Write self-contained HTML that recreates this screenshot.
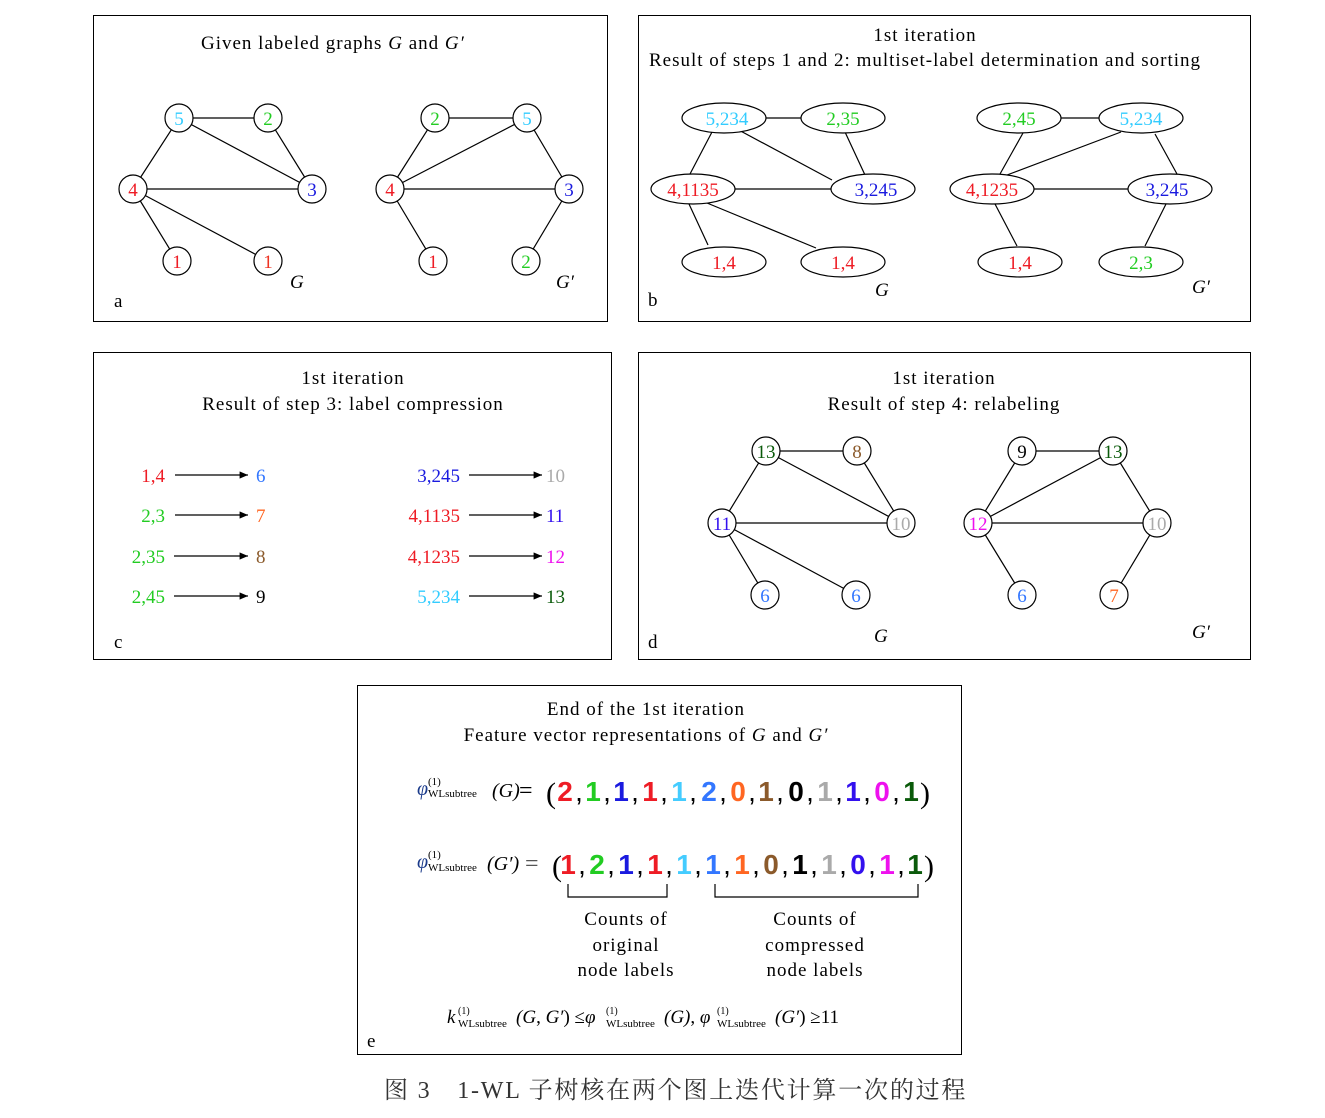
<!DOCTYPE html>
<html><head><meta charset="utf-8"><style>
html,body{margin:0;padding:0;background:#fff;}
svg{display:block;font-family:"Liberation Serif","Noto Serif CJK SC",serif;}
</style></head><body>
<svg width="1325" height="1118" viewBox="0 0 1325 1118" xmlns="http://www.w3.org/2000/svg">
<defs><marker id="ar" markerWidth="8" markerHeight="8" refX="7" refY="3" orient="auto"><path d="M0,0 L7,3 L0,6 z" fill="#000"/></marker></defs>
<g fill="none" stroke="#000" stroke-width="1">
<rect x="93.5" y="15.5" width="514" height="306"/>
<rect x="638.5" y="15.5" width="612" height="306"/>
<rect x="93.5" y="352.5" width="518" height="307"/>
<rect x="638.5" y="352.5" width="612" height="307"/>
<rect x="357.5" y="685.5" width="604" height="369"/>
</g>
<g font-size="19" fill="#000" letter-spacing="1">
<text x="201" y="49">Given labeled graphs <tspan font-style="italic">G</tspan> and <tspan font-style="italic">G′</tspan></text>
<text x="925" y="41" text-anchor="middle">1st iteration</text>
<text x="925" y="66" text-anchor="middle">Result of steps 1 and 2: multiset-label determination and sorting</text>
<text x="353" y="384" text-anchor="middle">1st iteration</text>
<text x="353" y="410" text-anchor="middle">Result of step 3: label compression</text>
<text x="944" y="384" text-anchor="middle">1st iteration</text>
<text x="944" y="410" text-anchor="middle">Result of step 4: relabeling</text>
<text x="646" y="715" text-anchor="middle">End of the 1st iteration</text>
<text x="646" y="741" text-anchor="middle">Feature vector representations of <tspan font-style="italic">G</tspan> and <tspan font-style="italic">G′</tspan></text>
</g>
<g font-size="19" fill="#000">
<text x="114" y="307">a</text><text x="648" y="306">b</text><text x="114" y="648">c</text><text x="648" y="648">d</text><text x="367" y="1047">e</text>
<text x="290" y="288" font-style="italic">G</text><text x="556" y="288" font-style="italic">G′</text>
<text x="875" y="296" font-style="italic">G</text><text x="1192" y="293" font-style="italic">G′</text>
<text x="874" y="642" font-style="italic">G</text><text x="1192" y="638" font-style="italic">G′</text>
</g>
<!-- panel a -->
<g stroke="#000" stroke-width="1.2">
<line x1="179" y1="118" x2="268" y2="118"/><line x1="179" y1="118" x2="133" y2="189"/><line x1="179" y1="118" x2="312" y2="189"/><line x1="268" y1="118" x2="312" y2="189"/><line x1="133" y1="189" x2="312" y2="189"/><line x1="133" y1="189" x2="177" y2="261"/><line x1="133" y1="189" x2="268" y2="261"/>
<line x1="435" y1="118" x2="527" y2="118"/><line x1="435" y1="118" x2="390" y2="189"/><line x1="390" y1="189" x2="527" y2="118"/><line x1="527" y1="118" x2="569" y2="189"/><line x1="390" y1="189" x2="569" y2="189"/><line x1="390" y1="189" x2="433" y2="261"/><line x1="569" y1="189" x2="526" y2="261"/>
</g>
<g fill="#fff" stroke="#000" stroke-width="1.2">
<circle cx="179" cy="118" r="14"/><circle cx="268" cy="118" r="14"/><circle cx="133" cy="189" r="14"/><circle cx="312" cy="189" r="14"/><circle cx="177" cy="261" r="14"/><circle cx="268" cy="261" r="14"/>
<circle cx="435" cy="118" r="14"/><circle cx="527" cy="118" r="14"/><circle cx="390" cy="189" r="14"/><circle cx="569" cy="189" r="14"/><circle cx="433" cy="261" r="14"/><circle cx="526" cy="261" r="14"/>
</g>
<g font-size="19" text-anchor="middle">
<text x="179" y="125" fill="#33ccff">5</text><text x="268" y="125" fill="#22cc22">2</text><text x="133" y="196" fill="#ee1c25">4</text><text x="312" y="196" fill="#1a1adf">3</text><text x="177" y="268" fill="#ee1c25">1</text><text x="268" y="268" fill="#ee3322">1</text>
<text x="435" y="125" fill="#22cc22">2</text><text x="527" y="125" fill="#33ccff">5</text><text x="390" y="196" fill="#ee1c25">4</text><text x="569" y="196" fill="#1a1adf">3</text><text x="433" y="268" fill="#ee1c25">1</text><text x="526" y="268" fill="#22cc22">2</text>
</g>
<!-- panel b -->
<g stroke="#000" stroke-width="1.2">
<line x1="724" y1="118" x2="843" y2="118"/><line x1="712" y1="132" x2="690" y2="174"/><line x1="735" y1="128" x2="832" y2="180"/><line x1="845" y1="132" x2="865" y2="175"/><line x1="693" y1="189" x2="873" y2="189"/><line x1="689" y1="204" x2="708" y2="245"/><line x1="707" y1="203" x2="816" y2="248"/>
<line x1="1019" y1="118" x2="1141" y2="118"/><line x1="1023" y1="133" x2="1000" y2="174"/><line x1="1007" y1="175" x2="1121" y2="132"/><line x1="1155" y1="134" x2="1177" y2="174"/><line x1="992" y1="189" x2="1170" y2="189"/><line x1="995" y1="204" x2="1017" y2="246"/><line x1="1166" y1="204" x2="1145" y2="246"/>
</g>
<g fill="#fff" stroke="#000" stroke-width="1.2">
<ellipse cx="724" cy="118" rx="42" ry="15"/><ellipse cx="843" cy="118" rx="42" ry="15"/><ellipse cx="693" cy="189" rx="42" ry="15"/><ellipse cx="873" cy="189" rx="42" ry="15"/><ellipse cx="724" cy="262" rx="42" ry="15"/><ellipse cx="843" cy="262" rx="42" ry="15"/>
<ellipse cx="1019" cy="118" rx="42" ry="15"/><ellipse cx="1141" cy="118" rx="42" ry="15"/><ellipse cx="992" cy="189" rx="42" ry="15"/><ellipse cx="1170" cy="189" rx="42" ry="15"/><ellipse cx="1020" cy="262" rx="42" ry="15"/><ellipse cx="1141" cy="262" rx="42" ry="15"/>
</g>
<g font-size="19" text-anchor="middle">
<text x="727" y="125" fill="#33ccff">5,234</text><text x="843" y="125" fill="#22cc22">2,35</text><text x="693" y="196" fill="#ee1c25">4,1135</text><text x="876" y="196" fill="#1a1adf">3,245</text><text x="724" y="269" fill="#ee1c25">1,4</text><text x="843" y="269" fill="#ee1c25">1,4</text>
<text x="1019" y="125" fill="#22cc22">2,45</text><text x="1141" y="125" fill="#33ccff">5,234</text><text x="992" y="196" fill="#ee1c25">4,1235</text><text x="1167" y="196" fill="#1a1adf">3,245</text><text x="1020" y="269" fill="#ee1c25">1,4</text><text x="1141" y="269" fill="#22cc22">2,3</text>
</g>
<!-- panel c -->
<g stroke="#000" stroke-width="1.2" marker-end="url(#ar)">
<line x1="175" y1="475" x2="248" y2="475"/><line x1="175" y1="515" x2="248" y2="515"/><line x1="174" y1="556" x2="248" y2="556"/><line x1="174" y1="596" x2="248" y2="596"/>
<line x1="469" y1="475" x2="542" y2="475"/><line x1="469" y1="515" x2="542" y2="515"/><line x1="469" y1="556" x2="542" y2="556"/><line x1="469" y1="596" x2="542" y2="596"/>
</g>
<g font-size="19">
<g text-anchor="end"><text x="165" y="482" fill="#ee1c25">1,4</text><text x="165" y="522" fill="#22cc22">2,3</text><text x="165" y="563" fill="#22cc22">2,35</text><text x="165" y="603" fill="#22cc22">2,45</text>
<text x="460" y="482" fill="#1a1adf">3,245</text><text x="460" y="522" fill="#ee1c25">4,1135</text><text x="460" y="563" fill="#ee1c25">4,1235</text><text x="460" y="603" fill="#33ccff">5,234</text></g>
<text x="256" y="482" fill="#3377ff">6</text><text x="256" y="522" fill="#ff6622">7</text><text x="256" y="563" fill="#8b5a2b">8</text><text x="256" y="603" fill="#000">9</text>
<text x="546" y="482" fill="#aaaaaa">10</text><text x="546" y="522" fill="#3311ee">11</text><text x="546" y="563" fill="#ee11ee">12</text><text x="546" y="603" fill="#0a5a0a">13</text>
</g>
<!-- panel d -->
<g stroke="#000" stroke-width="1.2">
<line x1="766" y1="451" x2="857" y2="451"/><line x1="766" y1="451" x2="722" y2="523"/><line x1="766" y1="451" x2="901" y2="523"/><line x1="857" y1="451" x2="901" y2="523"/><line x1="722" y1="523" x2="901" y2="523"/><line x1="722" y1="523" x2="765" y2="595"/><line x1="722" y1="523" x2="856" y2="595"/>
<line x1="1022" y1="451" x2="1113" y2="451"/><line x1="1022" y1="451" x2="978" y2="523"/><line x1="978" y1="523" x2="1113" y2="451"/><line x1="1113" y1="451" x2="1157" y2="523"/><line x1="978" y1="523" x2="1157" y2="523"/><line x1="978" y1="523" x2="1022" y2="595"/><line x1="1157" y1="523" x2="1114" y2="595"/>
</g>
<g fill="#fff" stroke="#000" stroke-width="1.2">
<circle cx="766" cy="451" r="14"/><circle cx="857" cy="451" r="14"/><circle cx="722" cy="523" r="14"/><circle cx="901" cy="523" r="14"/><circle cx="765" cy="595" r="14"/><circle cx="856" cy="595" r="14"/>
<circle cx="1022" cy="451" r="14"/><circle cx="1113" cy="451" r="14"/><circle cx="978" cy="523" r="14"/><circle cx="1157" cy="523" r="14"/><circle cx="1022" cy="595" r="14"/><circle cx="1114" cy="595" r="14"/>
</g>
<g font-size="19" text-anchor="middle">
<text x="766" y="458" fill="#0a5a0a">13</text><text x="857" y="458" fill="#8b5a2b">8</text><text x="722" y="530" fill="#3311ee">11</text><text x="901" y="530" fill="#aaaaaa">10</text><text x="765" y="602" fill="#3377ff">6</text><text x="856" y="602" fill="#3377ff">6</text>
<text x="1022" y="458" fill="#000">9</text><text x="1113" y="458" fill="#0a5a0a">13</text><text x="978" y="530" fill="#ee11ee">12</text><text x="1157" y="530" fill="#aaaaaa">10</text><text x="1022" y="602" fill="#3377ff">6</text><text x="1114" y="602" fill="#ff6622">7</text>
</g>
<!-- panel e -->
<g font-size="20">
<text x="417" y="795" font-style="italic" fill="#1a3a8a">φ</text><text x="428" y="785" font-size="11">(1)</text><text x="428" y="797" font-size="11">WLsubtree</text><text x="492" y="797" font-style="italic">(G)</text><text x="519" y="798" font-size="24">=</text>
<text x="417" y="868" font-style="italic" fill="#1a3a8a">φ</text><text x="428" y="858" font-size="11">(1)</text><text x="428" y="871" font-size="11">WLsubtree</text><text x="487" y="870" font-style="italic">(G′)</text><text x="525" y="871" font-size="24" fill="#555">=</text>
<text x="546" y="803" font-size="30">(</text><text x="920" y="803" font-size="30">)</text>
<text x="552" y="876" font-size="30">(</text><text x="924" y="876" font-size="30">)</text>
</g>
<g font-family="Liberation Sans, sans-serif" font-weight="bold" font-size="28" text-anchor="middle">
<text y="801"><tspan x="565" fill="#ee1c25">2</tspan><tspan x="579" fill="#000" font-weight="normal">,</tspan><tspan x="593" fill="#22cc22">1</tspan><tspan x="607" fill="#000" font-weight="normal">,</tspan><tspan x="621" fill="#1a1adf">1</tspan><tspan x="635" fill="#000" font-weight="normal">,</tspan><tspan x="650" fill="#ee1c25">1</tspan><tspan x="664" fill="#000" font-weight="normal">,</tspan><tspan x="679" fill="#44ccff">1</tspan><tspan x="693" fill="#000" font-weight="normal">,</tspan><tspan x="709" fill="#3377ff">2</tspan><tspan x="723" fill="#000" font-weight="normal">,</tspan><tspan x="738" fill="#ff6622">0</tspan><tspan x="752" fill="#000" font-weight="normal">,</tspan><tspan x="766" fill="#8b5a2b">1</tspan><tspan x="780" fill="#000" font-weight="normal">,</tspan><tspan x="796" fill="#000">0</tspan><tspan x="810" fill="#000" font-weight="normal">,</tspan><tspan x="825" fill="#aaaaaa">1</tspan><tspan x="839" fill="#000" font-weight="normal">,</tspan><tspan x="853" fill="#3311ee">1</tspan><tspan x="867" fill="#000" font-weight="normal">,</tspan><tspan x="882" fill="#ee11ee">0</tspan><tspan x="896" fill="#000" font-weight="normal">,</tspan><tspan x="911" fill="#0a5a0a">1</tspan></text>
<text y="874"><tspan x="568" fill="#ee1c25">1</tspan><tspan x="582" fill="#000" font-weight="normal">,</tspan><tspan x="597" fill="#22cc22">2</tspan><tspan x="611" fill="#000" font-weight="normal">,</tspan><tspan x="626" fill="#1a1adf">1</tspan><tspan x="640" fill="#000" font-weight="normal">,</tspan><tspan x="655" fill="#ee1c25">1</tspan><tspan x="669" fill="#000" font-weight="normal">,</tspan><tspan x="684" fill="#44ccff">1</tspan><tspan x="698" fill="#000" font-weight="normal">,</tspan><tspan x="713" fill="#3377ff">1</tspan><tspan x="727" fill="#000" font-weight="normal">,</tspan><tspan x="742" fill="#ff6622">1</tspan><tspan x="756" fill="#000" font-weight="normal">,</tspan><tspan x="771" fill="#8b5a2b">0</tspan><tspan x="785" fill="#000" font-weight="normal">,</tspan><tspan x="800" fill="#000">1</tspan><tspan x="814" fill="#000" font-weight="normal">,</tspan><tspan x="829" fill="#aaaaaa">1</tspan><tspan x="843" fill="#000" font-weight="normal">,</tspan><tspan x="858" fill="#3311ee">0</tspan><tspan x="872" fill="#000" font-weight="normal">,</tspan><tspan x="887" fill="#ee11ee">1</tspan><tspan x="901" fill="#000" font-weight="normal">,</tspan><tspan x="915" fill="#0a5a0a">1</tspan></text>
</g>
<g stroke="#000" stroke-width="1.2" fill="none">
<path d="M568,884 V897 H667 V884"/><path d="M715,884 V897 H918 V884"/>
</g>
<g font-size="19" text-anchor="middle" letter-spacing="1">
<text x="626" y="925">Counts of</text><text x="626" y="951">original</text><text x="626" y="976">node labels</text>
<text x="815" y="925">Counts of</text><text x="815" y="951">compressed</text><text x="815" y="976">node labels</text>
</g>
<g font-size="19">
<text x="447" y="1023" font-style="italic">k</text><text x="458" y="1014" font-size="10">(1)</text><text x="458" y="1027" font-size="11">WLsubtree</text>
<text x="516" y="1023"><tspan font-style="italic">(G</tspan>, <tspan font-style="italic">G′</tspan>) ≤<tspan font-style="italic">φ</tspan></text>
<text x="606" y="1014" font-size="10">(1)</text><text x="606" y="1027" font-size="11">WLsubtree</text>
<text x="664" y="1023"><tspan font-style="italic">(G)</tspan>, <tspan font-style="italic">φ</tspan></text>
<text x="717" y="1014" font-size="10">(1)</text><text x="717" y="1027" font-size="11">WLsubtree</text>
<text x="775" y="1023"><tspan font-style="italic">(G′</tspan>) ≥11</text>
</g>
<text x="384" y="1098" font-size="24" fill="#333" letter-spacing="1.8">图 3　1-WL 子树核在两个图上迭代计算一次的过程</text>
</svg>
</body></html>
